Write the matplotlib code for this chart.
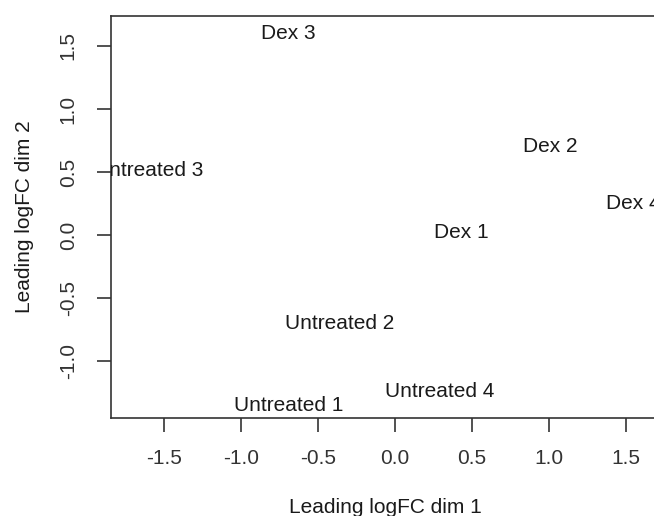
import matplotlib
matplotlib.use("Agg")
import matplotlib.pyplot as plt

plt.rcParams['font.family'] = ['Liberation Sans', 'DejaVu Sans']

samples = ["Dex 1", "Dex 2", "Dex 3", "Dex 4",
           "Untreated 1", "Untreated 2", "Untreated 3", "Untreated 4"]
dim1 = [0.43, 1.01, -0.69, 1.55, -0.69, -0.36, -1.60, 0.29]
dim2 = [0.02, 0.70, 1.60, 0.25, -1.35, -0.70, 0.51, -1.24]

xticks = [-1.5, -1.0, -0.5, 0.0, 0.5, 1.0, 1.5]
yticks = [-1.0, -0.5, 0.0, 0.5, 1.0, 1.5]

W, H = 654, 516
fig = plt.figure(figsize=(W / 100, H / 100), dpi=100)
left, right, top, bottom = 111, 659, 16, 418
ax = fig.add_axes([left / W, 1 - bottom / H, (right - left) / W, (bottom - top) / H])

for name, x, y in zip(samples, dim1, dim2):
    ax.text(x, y, name, ha='center', va='center', fontsize=15, color='#1a1a1a', clip_on=True)

ax.set_xlim(-1.844, 1.714)
ax.set_ylim(-1.452, 1.738)
ax.set_xticks(xticks)
ax.set_xticklabels([f"{v:.1f}" for v in xticks])
ax.set_yticks(yticks)
ax.set_yticklabels([f"{v:.1f}" for v in yticks], rotation=90, va='center')

for s in ax.spines.values():
    s.set_color('#333333')
    s.set_linewidth(1.2)

ax.tick_params(axis='both', length=10, width=1.2, color='#333333',
               labelsize=15, labelcolor='#333333', pad=12)
ax.tick_params(axis='y', pad=14)

ax.set_xlabel("Leading logFC dim 1", fontsize=15, color='#1a1a1a', labelpad=22)
ax.set_ylabel("Leading logFC dim 2", fontsize=15, color='#1a1a1a', labelpad=18)

fig.savefig("out.png", dpi=100)
